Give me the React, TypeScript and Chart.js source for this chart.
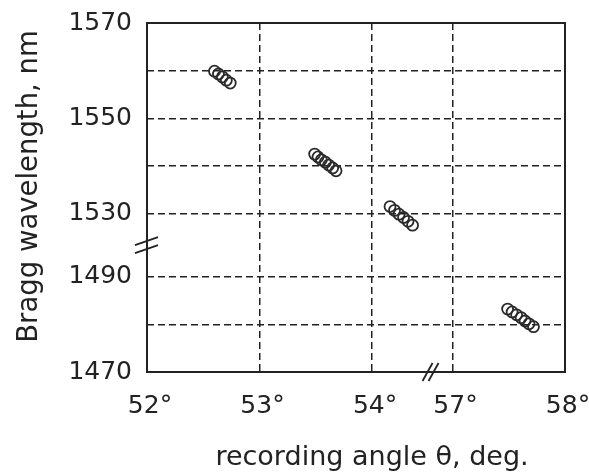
import React, { useEffect, useRef } from 'react';
import { Chart, registerables } from 'chart.js';

Chart.register(...registerables);

// ---- data (recording angle in degrees, Bragg wavelength in nm) ----
const angles1 = [52.6, 52.635, 52.67, 52.705, 52.74];
const lambda1 = [1559.9, 1559.3, 1558.7, 1558.0, 1557.4];

const angles2 = [53.49, 53.52, 53.55, 53.585, 53.615, 53.65, 53.68];
const lambda2 = [1542.5, 1541.9, 1541.3, 1540.8, 1540.2, 1539.6, 1539.0];

const angles3 = [54.16, 54.2, 54.24, 54.28, 54.32, 54.36];
const lambda3 = [1531.5, 1530.7, 1529.9, 1529.2, 1528.4, 1527.6];

const angles4 = [57.49, 57.53, 57.57, 57.61, 57.645, 57.68, 57.72];
const lambda4 = [1483.2, 1482.6, 1482.0, 1481.4, 1480.7, 1480.1, 1479.5];

const xTickAngles = [52, 53, 54, 57, 58];
const xTickLabels = ['52°', '53°', '54°', '57°', '58°'];
const yTickValues = [1470, 1480, 1490, 1530, 1540, 1550, 1560, 1570];
const yTickLabels = ['1470', '', '1490', '1530', '', '1550', '', '1570'];

const xTitle = 'recording angle θ, deg.';
const yTitle = 'Bragg wavelength, nm';

// broken axes: compressed spans replacing 54..57 deg and 1490..1530 nm
const X_GAP = 0.715;
const Y_GAP = 13.2;
const X_BREAK_AT = 54.52;
const Y_BREAK_AT = 1496.6;
const toU = (a: number) => (a < 55.5 ? a - 52 : a - 57 + 2 + X_GAP);
const toV = (l: number) => (l < 1510 ? l - 1470 : l - 1530 + 20 + Y_GAP);

const INK = '#222';
const FONT = "'DejaVu Sans', sans-serif";

const mk = (xs: number[], ys: number[]) => xs.map((a, i) => ({ x: toU(a), y: toV(ys[i]) }));

export default function App() {
  const ref = useRef<HTMLCanvasElement | null>(null);

  useEffect(() => {
    document.body.style.margin = '0';
    const canvas = ref.current;
    if (!canvas) return;

    const decor = {
      id: 'decor',
      afterDatasetsDraw(chart: any) {
        const { ctx, chartArea: a } = chart;
        const xs = chart.scales.x;
        const ys = chart.scales.y;
        ctx.save();
        ctx.setLineDash([]);
        ctx.strokeStyle = INK;
        ctx.lineWidth = 2;
        ctx.strokeRect(a.left, a.top, a.right - a.left, a.bottom - a.top);

        // y-axis break marks
        const by = ys.getPixelForValue(toV(Y_BREAK_AT));
        ctx.lineWidth = 1.8;
        for (const off of [-4, 4]) {
          ctx.beginPath();
          ctx.moveTo(a.left - 12, by + off + 4);
          ctx.lineTo(a.left + 11, by + off - 4);
          ctx.stroke();
        }
        // x-axis break marks
        const bx = xs.getPixelForValue(toU(X_BREAK_AT));
        for (const off of [-3, 3]) {
          ctx.beginPath();
          ctx.moveTo(bx + off - 5, a.bottom + 9);
          ctx.lineTo(bx + off + 5, a.bottom - 9);
          ctx.stroke();
        }
        ctx.restore();
      },
      afterDraw(chart: any) {
        const { ctx, chartArea: a } = chart;
        ctx.save();
        ctx.fillStyle = INK;
        ctx.textBaseline = 'alphabetic';
        ctx.textAlign = 'center';
        ctx.font = `27.5px ${FONT}`;
        ctx.translate(a.left - 110, (a.top + a.bottom) / 2 - 11);
        ctx.rotate(-Math.PI / 2);
        ctx.fillText(yTitle, 0, 0);
        ctx.restore();

        ctx.save();
        ctx.fillStyle = INK;
        ctx.textBaseline = 'alphabetic';
        ctx.textAlign = 'center';
        ctx.font = `27px ${FONT}`;
        ctx.fillText(xTitle, (a.left + a.right) / 2 + 16, a.bottom + 93);
        ctx.restore();
      },
    };

    const pointStyle = {
      showLine: false,
      pointStyle: 'circle',
      pointRadius: 5.5,
      pointBorderWidth: 1.8,
      pointBorderColor: '#2a2a2a',
      pointBackgroundColor: 'rgba(0,0,0,0)',
      borderColor: '#2a2a2a',
      backgroundColor: 'rgba(0,0,0,0)',
    };

    const gridColor = (c: any) => {
      const n = c.scale && c.scale.ticks ? c.scale.ticks.length : 0;
      return c.index === 0 || c.index === n - 1 ? 'rgba(0,0,0,0)' : INK;
    };

    const zeroPad = (s: any) => {
      s.paddingLeft = 0;
      s.paddingRight = 0;
      s.paddingTop = 0;
      s.paddingBottom = 0;
    };

    const chart = new Chart(canvas, {
      type: 'scatter',
      data: {
        datasets: [
          { data: mk(angles1, lambda1), ...pointStyle },
          { data: mk(angles2, lambda2), ...pointStyle },
          { data: mk(angles3, lambda3), ...pointStyle },
          { data: mk(angles4, lambda4), ...pointStyle },
        ],
      },
      options: {
        responsive: false,
        animation: false,
        devicePixelRatio: 1,
        layout: { padding: { top: 23, right: 24, left: 0, bottom: 0 } },
        plugins: { legend: { display: false }, tooltip: { enabled: false } },
        scales: {
          x: {
            type: 'linear',
            min: toU(52),
            max: toU(58),
            afterBuildTicks: (s: any) => {
              s.ticks = xTickAngles.map((a) => ({ value: toU(a) }));
            },
            afterFit: (s: any) => {
              s.height = 104;
              zeroPad(s);
            },
            ticks: {
              autoSkip: false,
              maxRotation: 0,
              padding: 19,
              labelOffset: 3,
              color: INK,
              font: { family: FONT, size: 25 },
              callback: (_v: any, i: number) => xTickLabels[i],
            },
            grid: { color: gridColor, lineWidth: 1.5, drawTicks: false },
            border: { display: false, dash: [7, 4] },
          },
          y: {
            type: 'linear',
            min: toV(1470),
            max: toV(1570),
            afterBuildTicks: (s: any) => {
              s.ticks = yTickValues.map((l) => ({ value: toV(l) }));
            },
            afterFit: (s: any) => {
              s.width = 147;
              zeroPad(s);
            },
            ticks: {
              autoSkip: false,
              padding: 15,
              color: INK,
              font: { family: FONT, size: 25 },
              callback: (_v: any, i: number) => yTickLabels[i],
            },
            grid: { color: gridColor, lineWidth: 1.5, drawTicks: false },
            border: { display: false, dash: [7, 4] },
          },
        },
      },
      plugins: [decor],
    } as any);

    return () => chart.destroy();
  }, []);

  return (
    <div style={{ width: 589, height: 476, background: '#fff' }}>
      <canvas ref={ref} width={589} height={476} style={{ display: 'block' }} />
    </div>
  );
}
